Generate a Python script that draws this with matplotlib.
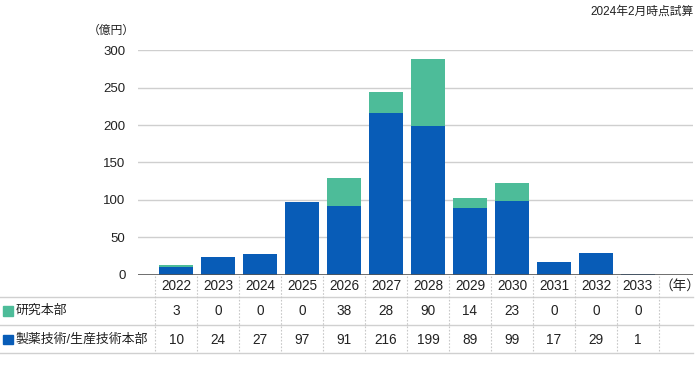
import matplotlib
matplotlib.use('Agg')
import matplotlib.pyplot as plt
from matplotlib.lines import Line2D
from matplotlib.transforms import blended_transform_factory

plt.rcParams['font.family'] = ['Liberation Sans', 'Noto Sans CJK JP']

# data
years = ['2022', '2023', '2024', '2025', '2026', '2027', '2028',
         '2029', '2030', '2031', '2032', '2033']
research = [3, 0, 0, 0, 38, 28, 90, 14, 23, 0, 0, 0]
production = [10, 24, 27, 97, 91, 216, 199, 89, 99, 17, 29, 1]
series_names = ['研究本部', '製薬技術/生産技術本部']
yticks = [0, 50, 100, 150, 200, 250, 300]

blue = '#085cb7'
green = '#4dbc99'
W, H = 700, 370


def fx(px):
    return px / W


def fy(py):
    return 1 - py / H


fig = plt.figure(figsize=(7, 3.7), dpi=100)
ax = fig.add_axes([fx(138), fy(274.5), fx(693 - 138), (274.5 - 50.3) / H])

x = list(range(len(years)))
ax.bar(x, production, width=0.79, color=blue, zorder=3)
ax.bar(x, research, width=0.79, bottom=production, color=green, zorder=3)

ax.set_xlim(-0.905, 12.31)
ax.set_ylim(0, 300)
ax.set_yticks(yticks)
ax.set_yticklabels([str(v) for v in yticks], fontsize=9.5, color='#222222')
ax.tick_params(axis='y', length=0, pad=9)
ax.set_xticks([])
for s in ax.spines.values():
    s.set_visible(False)
for v in yticks[1:]:
    ax.axhline(v, color='#cfcfcf', lw=1, zorder=1)
ax.axhline(0, color='#555555', lw=1.2, zorder=4)

# texts above
fig.text(fx(135), fy(31), '（億円）', fontsize=8.5, ha='right', va='center', color='#222222')
fig.text(fx(694), fy(12), '2024年2月時点試算', fontsize=8.5, ha='right', va='center', color='#222222')

# table below the chart
tr = blended_transform_factory(ax.transData, fig.transFigure)
labels = years + ['（年）']
header_y = fy(285.5)
row1_y = fy(311)
row2_y = fy(339.5)
for i, lab in enumerate(labels):
    fig.text(i, header_y, lab, transform=tr, fontsize=9.8, ha='center', va='center', color='#222222')
for i in x:
    fig.text(i, row1_y, str(research[i]), transform=tr, fontsize=9.8, ha='center', va='center', color='#222222')
    fig.text(i, row2_y, str(production[i]), transform=tr, fontsize=9.8, ha='center', va='center', color='#222222')

# horizontal rules
for py in [296.7, 325.3, 353]:
    fig.add_artist(Line2D([0, fx(693)], [fy(py), fy(py)], color='#d0d0d0', lw=1))

# dotted column separators
for i in range(len(labels)):
    fig.add_artist(Line2D([i - 0.5, i - 0.5], [fy(275.5), fy(353)], transform=tr,
                          color='#c8c8c8', lw=0.8, ls=(0, (1.5, 1.5))))

# row labels with colour squares
for name, col, yy in [(series_names[0], green, row1_y), (series_names[1], blue, row2_y)]:
    fig.patches.append(plt.Rectangle((fx(3.3), yy - 4.7 / H), fx(9.4), 9.4 / H,
                                     transform=fig.transFigure, color=col))
    fig.text(fx(16), yy, name, fontsize=9.3, ha='left', va='center', color='#222222')

plt.savefig('out.png', dpi=100)
